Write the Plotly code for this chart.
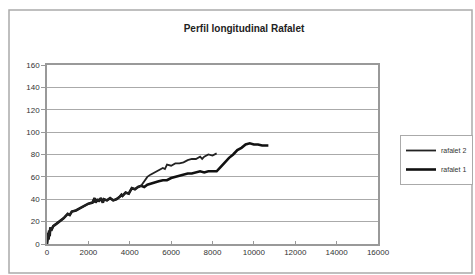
import plotly.graph_objects as go

x_common = [0, 20, 40, 60, 80, 100, 130, 160, 200, 300, 450, 600, 800, 1000, 1100, 1200, 1400,
            1600, 1800, 2000, 2200, 2300, 2350, 2450, 2500, 2600, 2700, 2750, 2900, 3050, 3200,
            3350, 3500, 3600, 3650, 3800, 3950, 4100, 4250, 4400, 4550]
y_common = [0, 5, 2, 10, 4, 12, 7, 15, 12, 16, 18, 20, 23, 27, 26, 29, 30,
            32, 34, 36, 37, 41, 37, 40, 38, 41, 37, 40, 39, 41, 39,
            40, 42, 44, 43, 46, 45, 50, 49, 51, 52]

x_r2_tail = [4700, 4850, 5000, 5200, 5400, 5600, 5700, 5800, 6000, 6200, 6400, 6600, 6800,
             7000, 7200, 7400, 7500, 7600, 7800, 8000, 8200]
y_r2_tail = [56, 60, 62, 64, 66, 68, 67, 71, 70, 72, 72, 73, 75, 76, 76, 78, 76, 78, 80, 79, 81]

x_r1_tail = [4700, 4850, 5000, 5200, 5400, 5600, 5800, 6000, 6200, 6400, 6600, 6800, 7000,
             7200, 7400, 7600, 7800, 8000, 8200, 8400, 8600, 8800, 9000, 9200, 9400, 9600,
             9800, 10000, 10200, 10400, 10600, 10700]
y_r1_tail = [51, 53, 54, 55, 56, 57, 57, 59, 60, 61, 62, 63, 63, 64, 65, 64, 65, 65, 65,
             69, 73, 77, 80, 84, 86, 89, 90, 89, 89, 88, 88, 88]

x_ticks = list(range(0, 16001, 2000))
y_ticks = list(range(0, 161, 20))

fig = go.Figure()
fig.add_trace(go.Scatter(x=x_common + x_r1_tail, y=y_common + y_r1_tail, mode="lines",
                         name="rafalet 1", line=dict(color="#111111", width=2.6)))
fig.add_trace(go.Scatter(x=x_common + x_r2_tail, y=y_common + y_r2_tail, mode="lines",
                         name="rafalet 2", line=dict(color="#222222", width=1.8)))

font = "Liberation Sans, Arial, sans-serif"
fig.update_layout(
    template="none",
    width=475, height=275,
    margin=dict(l=47, r=97, t=65, b=31, autoexpand=False),
    paper_bgcolor="white", plot_bgcolor="white",
    font=dict(family=font, size=8, color="#333333"),
    title=dict(text="<b>Perfil longitudinal Rafalet</b>", x=(244 / 475), xanchor="center",
               y=1 - 28 / 275, yanchor="middle", font=dict(size=10, color="#222222")),
    showlegend=True,
    legend=dict(x=(400 - 47) / 331, y=(244 - 135) / 179, xanchor="left", yanchor="top",
                traceorder="reversed",
                bordercolor="#aaaaaa", borderwidth=1, bgcolor="white",
                font=dict(size=7, color="#333333"), itemwidth=30, tracegroupgap=0),
    xaxis=dict(range=[0, 16000], tickvals=x_ticks, ticktext=[str(v) for v in x_ticks],
               showgrid=False, zeroline=False, showline=True, mirror=True, automargin=False,
               linecolor="#999999", linewidth=1.5, ticks="inside", ticklen=3,
               tickcolor="#999999"),
    yaxis=dict(range=[0, 160], tickvals=y_ticks, ticktext=[str(v) for v in y_ticks],
               showgrid=True, gridcolor="#aaaaaa", gridwidth=1, zeroline=False, automargin=False,
               showline=True, mirror=True, linecolor="#999999", linewidth=1.5,
               ticks="outside", ticklen=4, tickcolor="#999999"),
    shapes=[dict(type="rect", xref="paper", yref="paper",
                 x0=(9 - 47) / 331, x1=(472 - 47) / 331,
                 y0=(244 - 273) / 179, y1=(244 - 10) / 179,
                 line=dict(color="#aaaaaa", width=1.5), fillcolor="rgba(0,0,0,0)",
                 layer="below")],
)

fig.write_html("out.html", config={"displayModeBar": False},
               post_script="document.body.style.margin='0';")
